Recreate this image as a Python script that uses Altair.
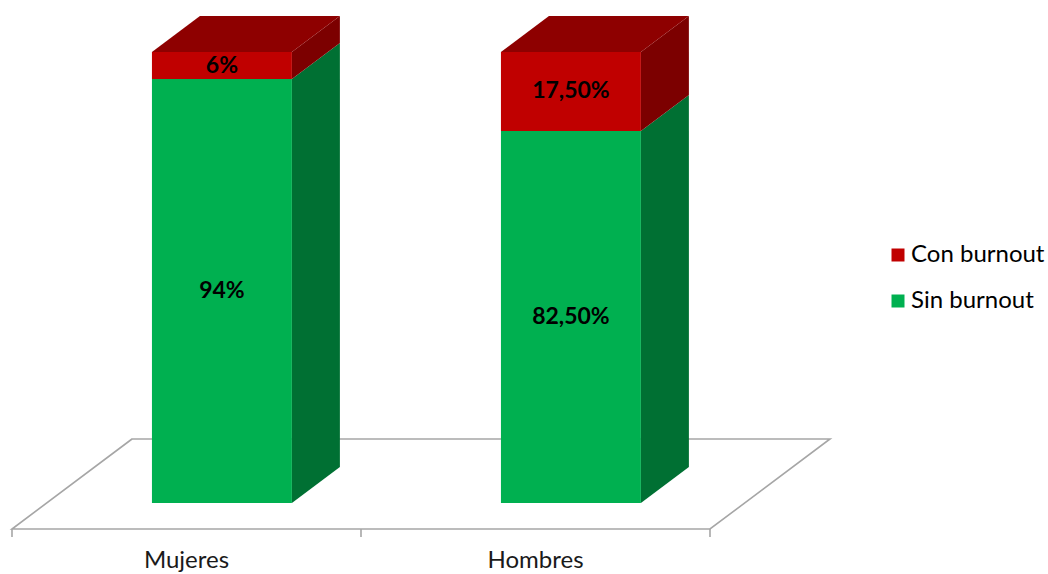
import altair as alt
import pandas as pd

# ---- data ----
categories = ["Mujeres", "Hombres"]
sin_burnout = [94.0, 82.5]
con_burnout = [6.0, 17.5]
sin_labels = ["94%", "82,50%"]
con_labels = ["6%", "17,50%"]
series = ["Con burnout", "Sin burnout"]
front_colors = ["#C00000", "#00B050"]
side_colors = {"Con burnout": "#7C0000", "Sin burnout": "#007033"}
top_color = "#8E0000"

# ---- 3D layout parameters (band units / percent units) ----
BAR_OFF = 0.401
BAR_W = 0.401
DU = 48 / 349.0
DP = 36 / 4.51
FLOOR_FRONT = -26 / 4.51
FLOOR_BACK = 64 / 4.51
FLOOR_DU = 120 / 349.0
TICK_LEN = 8 / 4.51

xs = alt.Scale(domain=[0, 2], range=[12, 710], zero=False, nice=False)
ys = alt.Scale(domain=[0, 100], range=[503, 52], zero=False, nice=False)

front_rows, side_rows, top_rows, lab_rows = [], [], [], []
for i, cat in enumerate(categories):
    segs = [("Sin burnout", 0.0, sin_burnout[i], sin_labels[i]),
            ("Con burnout", sin_burnout[i], sin_burnout[i] + con_burnout[i], con_labels[i])]
    x0 = i + BAR_OFF
    x1 = x0 + BAR_W
    for s, b, t, lab in segs:
        front_rows.append(dict(cat=cat, serie=s, x=x0, x2=x1, y=b, y2=t))
        lab_rows.append(dict(cat=cat, x=(x0 + x1) / 2, y=(b + t) / 2, label=lab))
        fid = f"{cat}-{s}"
        side_rows.append(dict(face=fid, col=side_colors[s], x=x1, y=t, y2=b))
        side_rows.append(dict(face=fid, col=side_colors[s], x=x1 + DU, y=t + DP, y2=b + DP))
    total = sin_burnout[i] + con_burnout[i]
    top_rows.append(dict(face=cat, y=total, x=x0, x2=x1))
    top_rows.append(dict(face=cat, y=total + DP, x=x0 + DU, x2=x1 + DU))

front = pd.DataFrame(front_rows)
sides = pd.DataFrame(side_rows)
tops = pd.DataFrame(top_rows)
labs = pd.DataFrame(lab_rows)
floor = pd.DataFrame([
    dict(y=FLOOR_FRONT, x=0.0, x2=2.0),
    dict(y=FLOOR_BACK, x=FLOOR_DU, x2=2.0 + FLOOR_DU),
])
ticks = pd.DataFrame(dict(x=[0, 1, 2], y=[FLOOR_FRONT] * 3, y2=[FLOOR_FRONT - TICK_LEN] * 3))
cat_labels = pd.DataFrame(dict(x=[0.5, 1.5], y=[FLOOR_FRONT] * 2, label=categories))

floor_layer = alt.Chart(floor).mark_area(
    orient="horizontal", fill="white", stroke="#A6A6A6", strokeWidth=1.6
).encode(
    y=alt.Y("y:Q", scale=ys, axis=None, stack=None),
    x=alt.X("x:Q", scale=xs, axis=None),
    x2="x2:Q",
)

tick_layer = alt.Chart(ticks).mark_rule(color="#A6A6A6", strokeWidth=1.6).encode(
    x=alt.X("x:Q", scale=xs, axis=None),
    y=alt.Y("y:Q", scale=ys, axis=None),
    y2="y2:Q",
)

side_layer = alt.Chart(sides).mark_area(orient="vertical").encode(
    x=alt.X("x:Q", scale=xs, axis=None),
    y=alt.Y("y:Q", scale=ys, axis=None, stack=None),
    y2="y2:Q",
    detail="face:N",
    fill=alt.Fill("col:N", scale=None),
)

top_layer = alt.Chart(tops).mark_area(orient="horizontal", fill=top_color).encode(
    y=alt.Y("y:Q", scale=ys, axis=None, stack=None),
    x=alt.X("x:Q", scale=xs, axis=None),
    x2="x2:Q",
    detail="face:N",
)

front_layer = alt.Chart(front).mark_rect().encode(
    x=alt.X("x:Q", scale=xs, axis=None),
    x2="x2:Q",
    y=alt.Y("y:Q", scale=ys, axis=None),
    y2="y2:Q",
    color=alt.Color(
        "serie:N",
        scale=alt.Scale(domain=series, range=front_colors),
        legend=alt.Legend(
            title=None, orient="none", legendX=886, legendY=243,
            symbolType="square", symbolSize=169, symbolStrokeWidth=0,
            labelFont="Lato", labelFontSize=24, labelColor="#000000",
            labelOffset=1, rowPadding=22, padding=0, labelLimit=400,
        ),
    ),
)

label_layer = alt.Chart(labs).mark_text(
    font="Lato", fontWeight="bold", fontSize=23, color="black", baseline="middle"
).encode(
    x=alt.X("x:Q", scale=xs, axis=None),
    y=alt.Y("y:Q", scale=ys, axis=None),
    text="label:N",
)

cat_layer = alt.Chart(cat_labels).mark_text(
    font="Lato", fontSize=24, color="#1a1a1a", baseline="alphabetic", dy=39
).encode(
    x=alt.X("x:Q", scale=xs, axis=None),
    y=alt.Y("y:Q", scale=ys, axis=None),
    text="label:N",
)

chart = alt.layer(
    floor_layer, tick_layer, side_layer, top_layer, front_layer, label_layer, cat_layer
).resolve_scale(color="independent", fill="independent").properties(
    width=1048, height=574, padding=0, autosize=alt.AutoSizeParams(type="none"),
    background="white",
).configure_view(stroke=None)

chart.save("out.html", embed_options={"renderer": "svg", "actions": False})
